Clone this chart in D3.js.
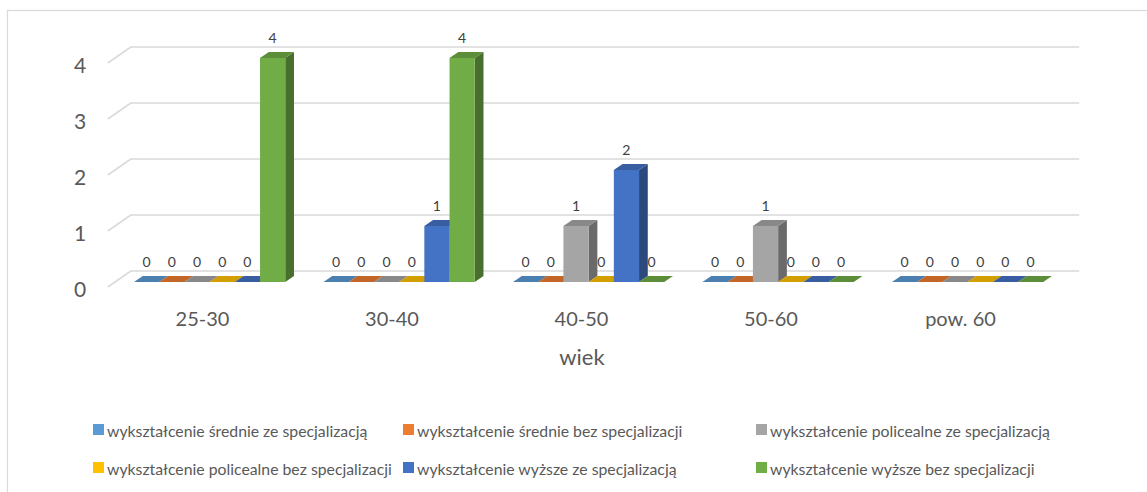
<!DOCTYPE html>
<html>
<head>
<meta charset="utf-8">
<script src="https://cdn.jsdelivr.net/npm/d3@7/dist/d3.min.js"></script>
<style>
  html, body { margin: 0; padding: 0; background: #fff; }
  svg { display: block; font-family: Lato, "Open Sans", sans-serif; }
</style>
</head>
<body>
<svg id="chart" width="1147" height="492"></svg>
<script>
// Age groups on the category axis
const categories = ["25-30", "30-40", "40-50", "50-60", "pow. 60"];

// Education level series
const seriesNames = [
  "wykształcenie średnie ze specjalizacją",
  "wykształcenie średnie bez specjalizacji",
  "wykształcenie policealne ze specjalizacją",
  "wykształcenie policealne bez specjalizacji",
  "wykształcenie wyższe ze specjalizacją",
  "wykształcenie wyższe bez specjalizacji"
];
const seriesColors = ["#5B9BD5", "#ED7D31", "#A5A5A5", "#FFC000", "#4472C4", "#70AD47"];

// Counts per age group, one array per series
const sredniaZe   = [0, 0, 0, 0, 0];
const sredniaBez  = [0, 0, 0, 0, 0];
const policealZe  = [0, 0, 1, 1, 0];
const policealBez = [0, 0, 0, 0, 0];
const wyzszeZe    = [0, 1, 2, 0, 0];
const wyzszeBez   = [4, 4, 0, 0, 0];
const seriesValues = [sredniaZe, sredniaBez, policealZe, policealBez, wyzszeZe, wyzszeBez];

const yTicks = [0, 1, 2, 3, 4];
const axisTitle = "wiek";

const svg = d3.select("#chart");
const textColor = "#595959";
const gridColor = "#d9d9d9";

// chart area frame
svg.append("rect")
  .attr("x", 7.5).attr("y", 10.5)
  .attr("width", 1160).attr("height", 500)
  .attr("fill", "none").attr("stroke", gridColor).attr("stroke-width", 1.2);

// oblique projection of the depth axis
const DX = 23, DY = 16;
const zFront = 0.31, zBack = 0.69;
const proj = (x, y, z) => [x + DX * z, y - DY * z];

const x0 = d3.scaleBand().domain(categories).range([107.75, 1055.25]).padding(0);
const step = x0.bandwidth();
const gap = step * 0.101;
const x1 = d3.scaleBand().domain(d3.range(seriesNames.length)).range([gap, step - gap]).padding(0);
const y = d3.scaleLinear().domain([0, 4]).range([287, 63]);

const xLeft = x0.range()[0];
const xRight = x0.range()[1];

// walls: side-wall diagonals and back-wall gridlines
const grid = svg.append("g").attr("stroke", gridColor).attr("stroke-width", 1.6).attr("fill", "none");
yTicks.forEach(v => {
  const a = proj(xLeft, y(v), 0), b = proj(xLeft, y(v), 1), c = proj(xRight, y(v), 1);
  grid.append("path").attr("d", `M${a[0]},${a[1]}L${b[0]},${b[1]}L${c[0] + 1},${c[1]}`);
});

// y axis labels
svg.append("g").selectAll("text").data(yTicks).join("text")
  .attr("x", 80).attr("y", d => y(d) + 1)
  .attr("text-anchor", "middle").attr("dominant-baseline", "central")
  .attr("fill", textColor).attr("font-size", 21)
  .text(d => d);

// bars, painted left to right so nearer bars cover side faces
const bars = [];
categories.forEach((cat, ci) => {
  seriesValues.forEach((vals, si) => {
    bars.push({ cat, ci, si, value: vals[ci] });
  });
});

const poly = pts => "M" + pts.map(p => p.join(",")).join("L") + "Z";
const barG = svg.append("g");
bars.forEach(d => {
  const xl = x0(d.cat) + x1(d.si);
  const xr = xl + x1.bandwidth();
  const yb = y(0), yt = y(d.value);
  const base = d3.color(seriesColors[d.si]);
  const topCol = base.darker(0.55).formatHex();
  const sideCol = base.darker(1.25).formatHex();
  const g = barG.append("g");
  if (d.value > 0) {
    // right side
    g.append("path").attr("fill", sideCol).attr("d", poly([
      proj(xr, yb, zFront), proj(xr, yb, zBack), proj(xr, yt, zBack), proj(xr, yt, zFront)
    ]));
    // front
    g.append("path").attr("fill", base.formatHex()).attr("d", poly([
      proj(xl, yb, zFront), proj(xr, yb, zFront), proj(xr, yt, zFront), proj(xl, yt, zFront)
    ]));
  }
  // top
  g.append("path").attr("fill", topCol).attr("d", poly([
    proj(xl, yt, zFront), proj(xr, yt, zFront), proj(xr, yt, zBack), proj(xl, yt, zBack)
  ]));
});

// value labels
svg.append("g").selectAll("text").data(bars).join("text")
  .attr("x", d => proj(x0(d.cat) + x1(d.si) + x1.bandwidth() / 2, 0, zFront)[0])
  .attr("y", d => proj(0, y(d.value), zBack)[1] - 14.5)
  .attr("text-anchor", "middle").attr("dominant-baseline", "central")
  .attr("fill", "#404040").attr("font-size", 14)
  .text(d => d.value);

// category labels
svg.append("g").selectAll("text").data(categories).join("text")
  .attr("x", d => x0(d) + step / 2)
  .attr("y", 318)
  .attr("text-anchor", "middle").attr("dominant-baseline", "central")
  .attr("fill", textColor).attr("font-size", 20)
  .text(d => d);

svg.append("text")
  .attr("x", 582).attr("y", 356)
  .attr("text-anchor", "middle").attr("dominant-baseline", "central")
  .attr("fill", textColor).attr("font-size", 22)
  .text(axisTitle);

// legend, two rows of three
const legendCols = [93, 403, 756];
const legendRows = [429.5, 467.5];
const leg = svg.append("g").selectAll("g").data(seriesNames).join("g")
  .attr("transform", (d, i) => `translate(${legendCols[i % 3]},${legendRows[Math.floor(i / 3)]})`);
leg.append("rect").attr("x", 0).attr("y", -5.5).attr("width", 11).attr("height", 11)
  .attr("fill", (d, i) => seriesColors[i]);
leg.append("text").attr("x", 14).attr("y", 0.5)
  .attr("dominant-baseline", "central")
  .attr("fill", textColor).attr("font-size", 15.8)
  .text(d => d);
</script>
</body>
</html>
